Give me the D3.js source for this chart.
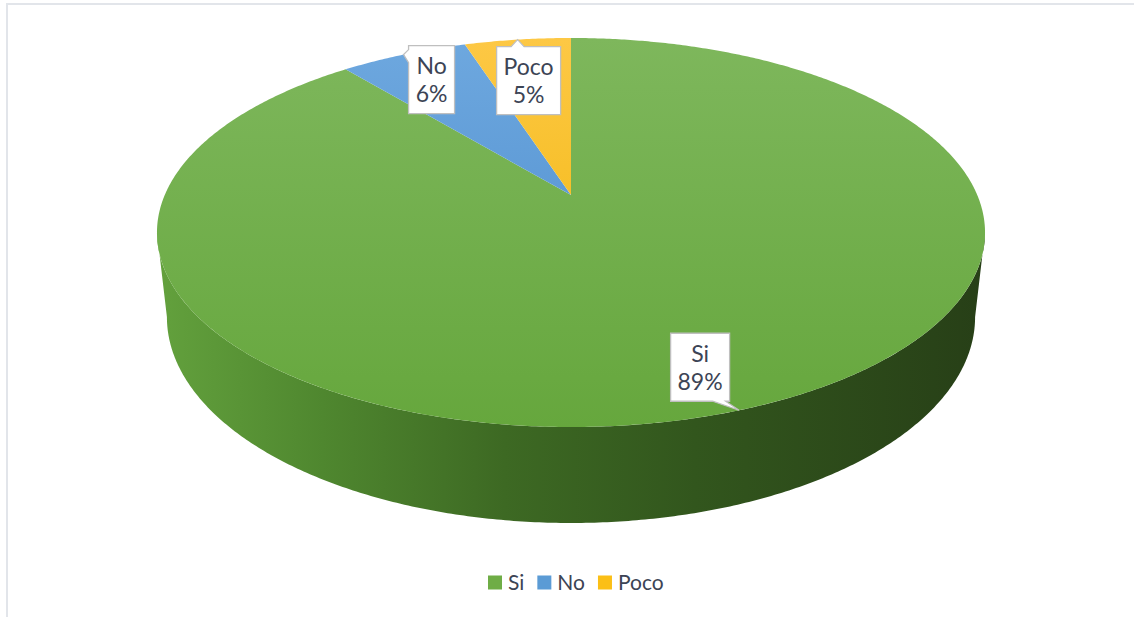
<!DOCTYPE html>
<html>
<head>
<meta charset="utf-8">
<script src="https://cdn.jsdelivr.net/npm/d3@7"></script>
<style>
  html, body { margin: 0; padding: 0; background: #ffffff; }
  svg { display: block; }
  text { font-family: Lato, "Open Sans", sans-serif; }
</style>
</head>
<body>
<svg id="chart" width="1134" height="617"></svg>
<script>
// Survey answers
const categories = ["Si", "No", "Poco"];
const values = [89, 6, 5];

// Slice colours: [top of gradient, bottom of gradient]
const topColors = [["#7eb75c", "#66a73d"], ["#6ea8df", "#4788ca"], ["#fdc845", "#eeb300"]];
const legendColors = ["#6fad46", "#5b9bd5", "#fbbf16"];

const W = 1134, H = 617;
const svg = d3.select("#chart");

// chart frame
svg.append("path")
  .attr("d", `M7,${H} L7,4 L${W},4`)
  .attr("fill", "none")
  .attr("stroke", "#e2e5ea")
  .attr("stroke-width", 2);

// ---- perspective projection of a unit-radius disc ----
const cx = 571, cy0 = 195;          // screen position of the disc centre
const tilt = Math.asin(0.461);       // viewing elevation
const sA = Math.sin(tilt), cA = Math.cos(tilt);
const camDist = 4.603;               // camera distance in radii
const focal = 1870;                  // focal length in px
const thick = 0.2364;                // slab thickness in radii

// theta: d3 pie angle (0 = far side, clockwise); y: 0 top face, -thick bottom
function project(theta, y) {
  const X = Math.sin(theta), Z = -Math.cos(theta);
  const depth = camDist - y * sA - Z * cA;
  const up = y * cA - Z * sA;
  return [cx + focal * X / depth, cy0 - focal * up / depth];
}
const centre = [cx, cy0];

function arcPoints(a0, a1, y) {
  const n = Math.max(2, Math.ceil(Math.abs(a1 - a0) / (Math.PI / 360)));
  return d3.range(n + 1).map(i => project(a0 + (a1 - a0) * i / n, y));
}

const pie = d3.pie().sort(null).value(d => d);
const arcs = pie(values);
const total = d3.sum(values);
const pct = d3.format(".0%");

const defs = svg.append("defs");

// top face gradients (vertical)
const yTop = project(0, 0)[1], yNear = project(Math.PI, 0)[1];
topColors.forEach((c, i) => {
  const g = defs.append("linearGradient")
    .attr("id", "top" + i)
    .attr("gradientUnits", "userSpaceOnUse")
    .attr("x1", 0).attr("x2", 0).attr("y1", yTop).attr("y2", yNear);
  g.append("stop").attr("offset", 0).attr("stop-color", c[0]);
  g.append("stop").attr("offset", 1).attr("stop-color", c[1]);
});

// side wall gradient (horizontal, lit from the left)
const xLeft = cx - 414, xRight = cx + 414;
const sideG = defs.append("linearGradient")
  .attr("id", "side")
  .attr("gradientUnits", "userSpaceOnUse")
  .attr("x1", xLeft).attr("x2", xRight).attr("y1", 0).attr("y2", 0);
[[0, "#63a13d"], [0.2, "#4f872f"], [0.42, "#3d6923"], [0.65, "#32561d"], [1, "#273f17"]]
  .forEach(([o, c]) => sideG.append("stop").attr("offset", o).attr("stop-color", c));

// visible part of the outer wall: between the silhouette angles
const kBot = camDist + thick * sA;
const aTopR = Math.acos(-cA / camDist), aTopL = 2 * Math.PI - aTopR;
const aBotR = Math.acos(-cA / kBot), aBotL = 2 * Math.PI - aBotR;
const wallPts = arcPoints(aTopR, aTopL, 0).concat(arcPoints(aBotL, aBotR, -thick));
svg.append("path")
  .attr("d", "M" + wallPts.map(p => p.join(",")).join("L") + "Z")
  .attr("fill", "url(#side)");

// top face slices
const line = d3.line();
svg.append("g").selectAll("path")
  .data(arcs)
  .join("path")
  .attr("d", d => line([centre].concat(arcPoints(d.startAngle, d.endAngle, 0))) + "Z")
  .attr("fill", (d, i) => `url(#top${i})`);

// ---- data label callouts ----
const labelOffset = [[-39, -43], [28, 25], [11, 41]]; // box centre relative to anchor
const textColor = "#3c4455";
const fontSize = 23, lineH = 28, padX = 7, padY = 6;
const labels = svg.append("g");

arcs.forEach((d, i) => {
  const mid = (d.startAngle + d.endAngle) / 2;
  const tip = project(mid, 0);
  const bx = tip[0] + labelOffset[i][0], by = tip[1] + labelOffset[i][1];
  const g = labels.append("g");
  const box = g.append("path");
  const lines = [categories[i], pct(d.value / total)];
  const txt = g.append("text")
    .attr("text-anchor", "middle")
    .attr("font-size", fontSize)
    .attr("fill", textColor);
  lines.forEach((s, j) => {
    txt.append("tspan")
      .attr("x", bx)
      .attr("y", by + (j - 0.5) * lineH + fontSize * 0.36)
      .text(s);
  });
  const tw = d3.max(txt.selectAll("tspan").nodes(), n => n.getComputedTextLength());
  const w = Math.round(tw + 2 * padX), h = lines.length * lineH + 2 * padY;
  const L = bx - w / 2, R = bx + w / 2, T = by - h / 2, B = by + h / 2;
  const base = 13;
  const clamp = (v, lo, hi) => Math.max(lo, Math.min(hi, v));
  let pts;
  if (tip[1] < T) {
    const x0 = clamp(tip[0] - base / 2, L + 4, R - 4 - base);
    pts = [[L, T], [x0, T], tip, [x0 + base, T], [R, T], [R, B], [L, B]];
  } else if (tip[1] > B) {
    const x0 = clamp(tip[0] - base / 2, L + 4, R - 4 - base);
    pts = [[L, T], [R, T], [R, B], [x0 + base, B], tip, [x0, B], [L, B]];
  } else if (tip[0] < L) {
    const y0 = clamp(tip[1] - base / 2, T + 4, B - 4 - base);
    pts = [[L, T], [R, T], [R, B], [L, B], [L, y0 + base], tip, [L, y0]];
  } else {
    const y0 = clamp(tip[1] - base / 2, T + 4, B - 4 - base);
    pts = [[L, T], [R, T], [R, y0], tip, [R, y0 + base], [R, B], [L, B]];
  }
  box.attr("d", line(pts) + "Z")
    .attr("fill", "#ffffff")
    .attr("stroke", "#bfbfbf")
    .attr("stroke-width", 1.3)
    .attr("stroke-linejoin", "miter");
});

// ---- legend ----
const legend = svg.append("g");
const legendY = 583, sw = 14, gapSwatch = 6, gapItem = 13;
let xCursor = 0;
categories.forEach((c, i) => {
  const g = legend.append("g");
  g.append("rect")
    .attr("x", xCursor).attr("y", legendY - sw / 2 - 0.5)
    .attr("width", sw).attr("height", sw)
    .attr("fill", legendColors[i]);
  const t = g.append("text")
    .attr("x", xCursor + sw + gapSwatch)
    .attr("y", legendY + 7)
    .attr("font-size", 21)
    .attr("fill", textColor)
    .text(c);
  xCursor += sw + gapSwatch + t.node().getComputedTextLength() + gapItem;
});
const legendW = xCursor - gapItem;
legend.attr("transform", `translate(${Math.round(575.5 - legendW / 2)},0)`);
</script>
</body>
</html>
